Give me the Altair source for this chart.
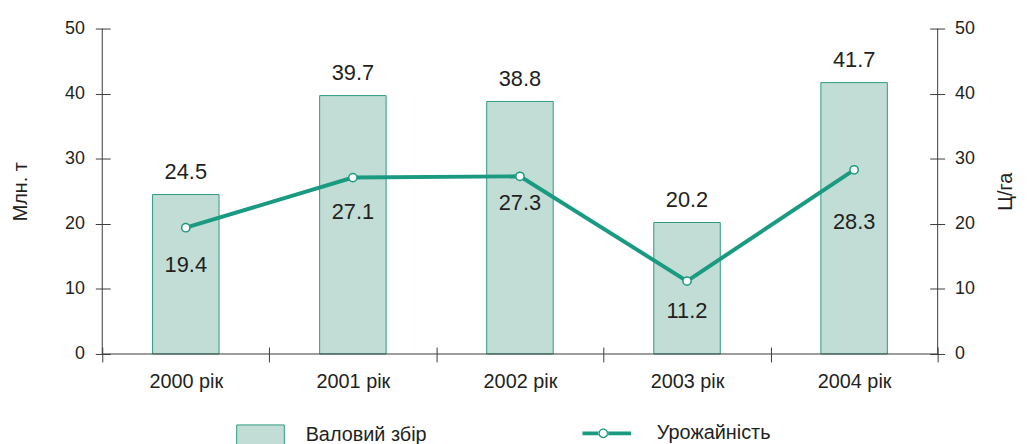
import altair as alt
import pandas as pd

years = ["2000 рік", "2001 рік", "2002 рік", "2003 рік", "2004 рік"]
harvest = [24.5, 39.7, 38.8, 20.2, 41.7]
yields = [19.4, 27.1, 27.3, 11.2, 28.3]
y_ticks = [0, 10, 20, 30, 40, 50]
series = ["Валовий збір", "Урожайність"]

df = pd.DataFrame({"year": years, "harvest": harvest, "yield": yields})

FONT = "Liberation Sans"
TXT = "#231f20"
AX = "#3c3c3c"
BAR_FILL = "#c1ddd5"
BAR_STROKE = "#2e9b83"
LINE = "#1b9a82"
W, H = 842, 328

# legend glyph for the yield series: thick line with a hollow circle marker (pixel units)
LINE_GLYPH = ("M-21,-2H-4.6V2H-21Z M4.6,-2H28V2H4.6Z "
              "M5,0A5,5 0 1,0 -5,0A5,5 0 1,0 5,0Z "
              "M3.6,0A3.6,3.6 0 1,1 -3.6,0A3.6,3.6 0 1,1 3.6,0Z")

x_enc = alt.X(
    "year:N", sort=years,
    scale=alt.Scale(paddingInner=0, paddingOuter=0),
    axis=alt.Axis(title=None, domain=False, tickBand="extent", tickSize=15, offset=-7,
                  tickColor=AX, labelPadding=10, labelFontSize=20, labelAngle=0,
                  labelColor=TXT, labelFont=FONT),
)

left_axis = alt.Axis(values=y_ticks, title="Млн. т", domain=False, tickSize=15, offset=-8,
                     tickColor=AX, labelPadding=11, labelFontSize=18, labelColor=TXT,
                     labelFont=FONT, grid=False, titleFontSize=20, titleFontWeight="normal",
                     titleColor=TXT, titleFont=FONT, titlePadding=34, orient="left")
right_axis = alt.Axis(values=y_ticks, title="Ц/га", domain=False, tickSize=15, offset=-8,
                      tickColor=AX, labelPadding=10, labelFontSize=18, labelColor=TXT,
                      labelFont=FONT, grid=False, titleFontSize=20, titleFontWeight="normal",
                      titleColor=TXT, titleFont=FONT, titlePadding=41, titleAngle=270,
                      orient="right")

y_left = alt.Y("harvest:Q", scale=alt.Scale(domain=[0, 50], nice=False), axis=left_axis)
y_right = alt.Y("yield:Q", scale=alt.Scale(domain=[0, 50], nice=False), axis=right_axis)

base = alt.Chart(df)

bars = base.transform_calculate(s1=f"'{series[0]}'").mark_bar(
    size=67, stroke=BAR_STROKE, strokeWidth=1).encode(
    x=x_enc, y=y_left,
    fill=alt.Fill("s1:N", scale=alt.Scale(domain=[series[0]], range=[BAR_FILL]),
                  legend=alt.Legend(title=None, orient="none", legendX=135, legendY=385,
                                    symbolType="M-1,-0.4167H1V0.4167H-1Z", symbolSize=2304,
                                    symbolStrokeColor=BAR_STROKE, symbolStrokeWidth=1,
                                    labelFontSize=20, labelFont=FONT, labelColor=TXT,
                                    labelOffset=21, padding=0, labelLimit=0)),
)
bar_text = base.mark_text(dy=-23, fontSize=22, font=FONT, color=TXT).encode(
    x=x_enc, y=y_left, text=alt.Text("harvest:Q", format=".1f"))

axis_lines = alt.Chart(pd.DataFrame({"k": [0]}))
rule_l = axis_lines.mark_rule(color=AX, strokeWidth=1).encode(
    x=alt.value(0), y=alt.value(0), y2=alt.value(H))
rule_r = axis_lines.mark_rule(color=AX, strokeWidth=1).encode(
    x=alt.value(W), y=alt.value(0), y2=alt.value(H))
rule_b = axis_lines.mark_rule(color=AX, strokeWidth=1).encode(
    y=alt.value(H), x=alt.value(0), x2=alt.value(W))

left_group = alt.layer(bars, bar_text, rule_l, rule_r, rule_b)

line = base.mark_line(strokeWidth=4, color=LINE).encode(x=x_enc, y=y_right)
points = base.mark_point(filled=True, fill="white", stroke=LINE, strokeWidth=1.5,
                         size=70, opacity=1).encode(x=x_enc, y=y_right)

# invisible layer that only carries the legend entry of the yield series
legend_carrier = base.transform_calculate(s2=f"'{series[1]}'").mark_point(
    filled=True, fill=LINE, size=0, opacity=1).encode(
    x=x_enc, y=y_right,
    shape=alt.Shape("s2:N", scale=alt.Scale(domain=[series[1]], range=[LINE_GLYPH]),
                    legend=alt.Legend(title=None, orient="none", legendX=495, legendY=398,
                                      symbolSize=4, symbolFillColor=LINE,
                                      symbolStrokeWidth=0, labelFontSize=20,
                                      labelFont=FONT, labelColor=TXT, labelOffset=44,
                                      padding=0, labelLimit=0)),
)

label_dy = {"2000 рік": 38, "2001 рік": 35, "2002 рік": 27, "2003 рік": 30, "2004 рік": 53}
yield_texts = [
    base.transform_filter(alt.datum.year == yr).mark_text(
        dy=d, fontSize=22, font=FONT, color=TXT).encode(
        x=x_enc, y=y_right, text=alt.Text("yield:Q", format=".1f"))
    for yr, d in label_dy.items()
]

right_group = alt.layer(line, points, legend_carrier, *yield_texts)

chart = alt.layer(left_group, right_group).resolve_scale(
    y="independent", fill="independent", shape="independent"
).properties(
    width=W, height=H,
    autosize=alt.AutoSizeParams(type="none"),
    padding={"left": 95, "top": 19, "right": 83, "bottom": 89},
).configure(font=FONT).configure_view(stroke=None)

chart.save("out.html", embed_options={"renderer": "svg", "actions": False})
